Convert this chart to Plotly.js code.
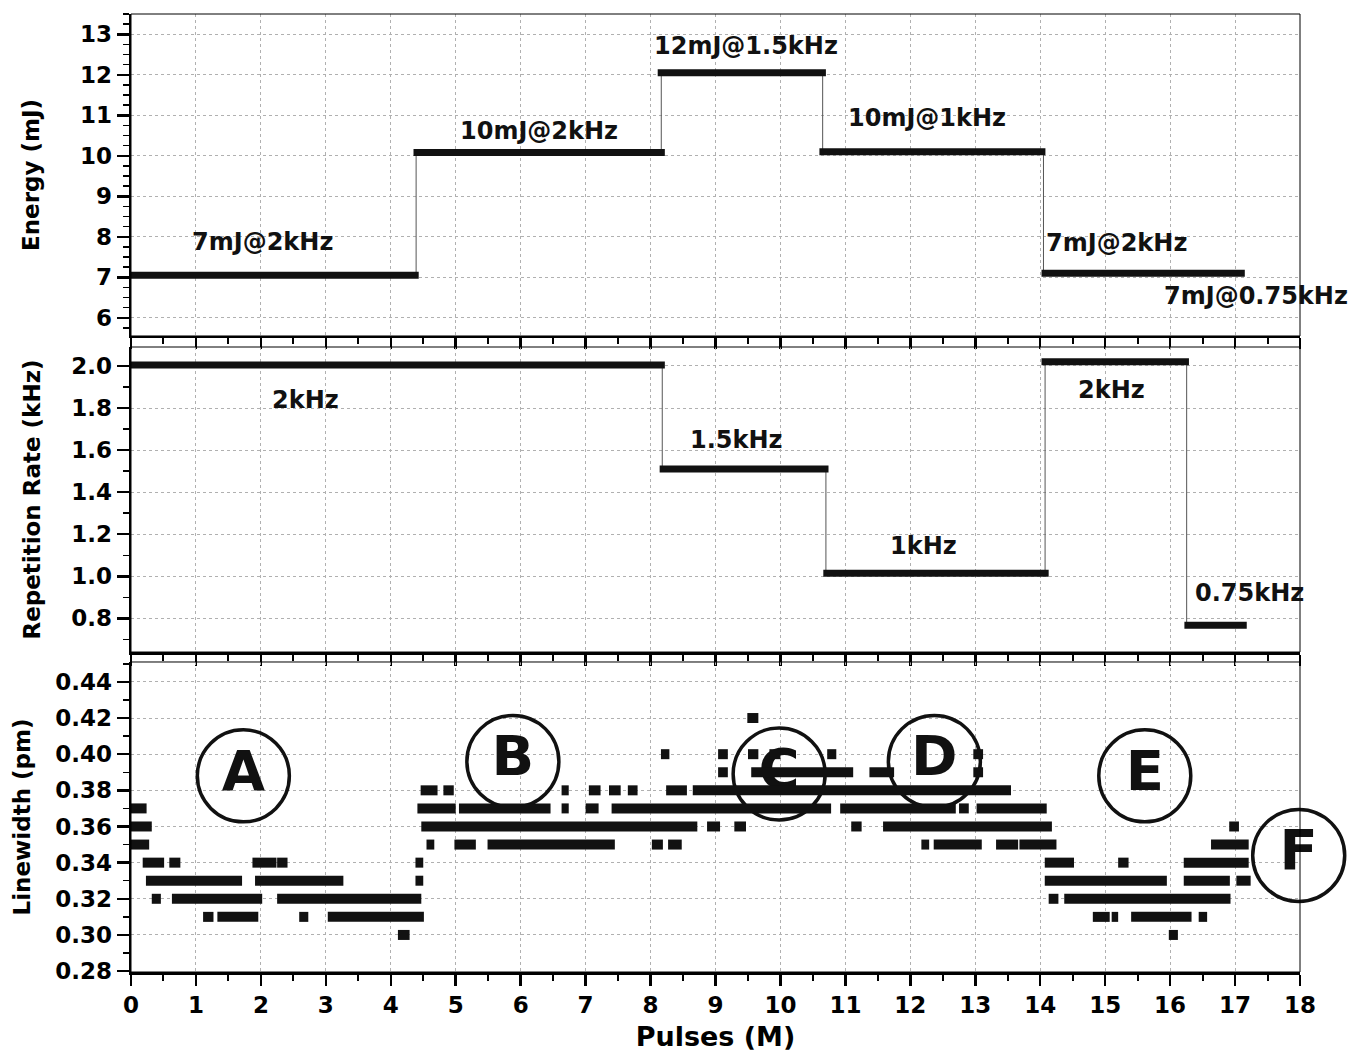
<!DOCTYPE html>
<html><head><meta charset="utf-8">
<script src="https://cdn.plot.ly/plotly-3.0.1.min.js"></script>
<style>html,body{margin:0;padding:0;background:#fff}#chart{width:1361px;height:1055px}</style>
</head><body><div id="chart"></div>
<script>
// ---- Energy panel (mJ) ----
const energyStart = [0.00, 4.35, 8.11, 10.60, 14.02];
const energyEnd   = [4.43, 8.22, 10.70, 14.08, 17.15];
const energyValue = [7.05, 10.08, 12.05, 10.10, 7.10];
const energyLabels = ["7mJ@2kHz", "10mJ@2kHz", "12mJ@1.5kHz", "10mJ@1kHz", "7mJ@2kHz", "7mJ@0.75kHz"];

// ---- Repetition rate panel (kHz) ----
const repStart = [0.00, 8.14, 10.66, 14.02, 16.22];
const repEnd   = [8.22, 10.74, 14.13, 16.29, 17.18];
const repValue = [2.005, 1.51, 1.014, 2.02, 0.767];
const repLabels = ["2kHz", "1.5kHz", "1kHz", "2kHz", "0.75kHz"];

// ---- Linewidth panel (pm): runs of dense points at each level ----
const lwLevel = [
  0.37, 0.36, 0.35,
  0.34, 0.34, 0.34, 0.34, 0.34,
  0.33, 0.33, 0.33,
  0.32, 0.32, 0.32,
  0.31, 0.31, 0.31, 0.31,
  0.30,
  0.38, 0.38, 0.38, 0.38, 0.38, 0.38, 0.38, 0.38,
  0.40, 0.40, 0.40, 0.40, 0.40, 0.40,
  0.42,
  0.39, 0.39, 0.39, 0.39,
  0.37, 0.37, 0.37, 0.37, 0.37, 0.37, 0.37, 0.37,
  0.36, 0.36, 0.36, 0.36, 0.36,
  0.35, 0.35, 0.35, 0.35, 0.35, 0.35, 0.35, 0.35, 0.35,
  0.34, 0.34, 0.34,
  0.35, 0.36,
  0.33, 0.33, 0.33,
  0.32, 0.32,
  0.31, 0.31, 0.31, 0.31,
  0.30
];
const lwStart = [
  0.00, 0.00, 0.00,
  0.18, 0.59, 1.87, 2.25, 4.38,
  0.23, 1.91, 4.38,
  0.32, 0.63, 2.25,
  1.11, 1.33, 2.59, 3.03,
  4.11,
  4.46, 4.81, 6.63, 7.05, 7.36, 7.65, 8.24, 8.65,
  8.16, 9.04, 9.50, 9.83, 10.72, 12.97,
  9.49,
  9.04, 9.55, 11.37, 12.97,
  4.41, 5.05, 6.63, 7.00, 7.40, 10.92, 12.75, 13.02,
  4.47, 8.87, 9.29, 11.09, 11.58,
  4.55, 4.98, 5.49, 8.02, 8.27, 12.17, 12.36, 13.32, 13.68,
  14.07, 15.20, 16.21,
  16.63, 16.91,
  14.07, 16.21, 17.02,
  14.13, 14.37,
  14.81, 15.10, 15.40, 16.44,
  15.98
];
const lwEnd = [
  0.24, 0.32, 0.28,
  0.51, 0.76, 2.24, 2.41, 4.50,
  1.71, 3.27, 4.50,
  0.46, 2.02, 4.47,
  1.27, 1.96, 2.73, 4.51,
  4.29,
  4.72, 4.97, 6.74, 7.23, 7.54, 7.80, 8.56, 13.55,
  8.29, 9.19, 9.66, 10.00, 10.86, 13.12,
  9.66,
  9.19, 11.12, 11.75, 13.12,
  5.00, 6.46, 6.74, 7.20, 10.78, 12.70, 12.90, 14.10,
  8.72, 9.07, 9.47, 11.25, 14.18,
  4.67, 5.31, 7.45, 8.19, 8.48, 12.29, 13.10, 13.66, 14.25,
  14.52, 15.36, 17.21,
  17.21, 17.06,
  15.95, 16.92, 17.24,
  14.28, 16.93,
  15.07, 15.20, 16.33, 16.57,
  16.12
];
const regionLabels = ["A", "B", "C", "D", "E", "F"];

// ---- annotation placement (positions / styles, not data) ----
const energyLabelPos = [[2.02, 7.87], [6.28, 10.61], [9.47, 12.72], [12.26, 10.94], [15.18, 7.85], [17.32, 6.53]];
const repLabelPos = [[2.68, 1.84], [9.32, 1.648], [12.2, 1.143], [15.09, 1.886], [17.23, 0.919]];
const circlePos = [[1.73, 0.388], [5.88, 0.396], [9.98, 0.389], [12.37, 0.396], [15.61, 0.388], [17.98, 0.344]];

const FONT = 'DejaVu Sans';
const INK = '#111';

function segTrace(starts, ends, vals, xa, ya, width) {
  const x = [], y = [];
  for (let i = 0; i < starts.length; i++) {
    x.push(starts[i], ends[i], null);
    y.push(vals[i], vals[i], null);
  }
  return {type: 'scatter', mode: 'lines', x, y, xaxis: xa, yaxis: ya,
    line: {color: INK, width: width}, hoverinfo: 'skip', connectgaps: false};
}
function connTrace(starts, ends, vals, xa, ya) {
  const x = [], y = [];
  for (let i = 0; i < starts.length - 1; i++) {
    const xm = (ends[i] + starts[i + 1]) / 2;
    x.push(xm, xm, null);
    y.push(vals[i], vals[i + 1], null);
  }
  return {type: 'scatter', mode: 'lines', x, y, xaxis: xa, yaxis: ya,
    line: {color: '#555', width: 1}, hoverinfo: 'skip'};
}

const circleTrace = {
  type: 'scatter', mode: 'markers+text', xaxis: 'x3', yaxis: 'y3',
  x: circlePos.map(p => p[0]), y: circlePos.map(p => p[1]), text: regionLabels,
  textposition: 'middle center', cliponaxis: false,
  textfont: {family: FONT, size: 56, weight: 'bold', color: INK},
  marker: {symbol: 'circle-open', size: 92, color: INK, line: {width: 3.5, color: INK}},
  hoverinfo: 'skip'
};

const traces = [
  connTrace(energyStart, energyEnd, energyValue, 'x', 'y'),
  segTrace(energyStart, energyEnd, energyValue, 'x', 'y', 7),
  connTrace(repStart, repEnd, repValue, 'x2', 'y2'),
  segTrace(repStart, repEnd, repValue, 'x2', 'y2', 7),
  circleTrace,
  segTrace(lwStart, lwEnd, lwLevel, 'x3', 'y3', 10)
];

const tickFont = {family: FONT, size: 23, weight: 'bold', color: '#000'};
const titleFont = {family: FONT, size: 23, weight: 'bold', color: '#000'};
function xAxis(anchor, showLabels) {
  const a = {
    anchor: anchor, range: [0, 18], tick0: 0, dtick: 1, ticks: 'outside', ticklen: 11, tickwidth: 2.5,
    tickcolor: '#000', showline: true, linewidth: 2.5, linecolor: '#000', zeroline: false,
    showgrid: true, gridcolor: '#b0b0b0', griddash: 'dot', gridwidth: 1,
    minor: {dtick: 0.5, ticks: 'outside', ticklen: 6, tickwidth: 2, tickcolor: '#000', showgrid: false},
    showticklabels: showLabels, tickfont: tickFont
  };
  if (anchor !== 'y3') a.matches = 'x3';
  return a;
}
function yAxis(domain, range, dtick, minor, fmt, title, standoff) {
  return {
    domain: domain, range: range, tick0: 0, dtick: dtick, tickformat: fmt,
    ticks: 'outside', ticklen: 12, tickwidth: 2.5, tickcolor: '#000',
    showline: true, linewidth: 2.5, linecolor: '#000', zeroline: false,
    showgrid: true, gridcolor: '#b0b0b0', griddash: 'dot', gridwidth: 1,
    minor: {dtick: minor, ticks: 'outside', ticklen: 6, tickwidth: 1.5, tickcolor: '#000', showgrid: false},
    tickfont: tickFont,
    title: {text: title, font: titleFont, standoff: standoff}
  };
}

const annotations = [];
energyLabels.forEach((t, i) => annotations.push({
  text: t, x: energyLabelPos[i][0], y: energyLabelPos[i][1], xref: 'x', yref: 'y',
  showarrow: false, font: {family: FONT, size: 24, weight: 'bold', color: INK}
}));
repLabels.forEach((t, i) => annotations.push({
  text: t, x: repLabelPos[i][0], y: repLabelPos[i][1], xref: 'x2', yref: 'y2',
  showarrow: false, font: {family: FONT, size: 24, weight: 'bold', color: INK}
}));

const shapes = [['x', 'y'], ['x2', 'y2'], ['x3', 'y3']].map(([xa, ya]) => ({
  type: 'rect', xref: xa + ' domain', yref: ya + ' domain', x0: 0, x1: 1, y0: 0, y1: 1,
  line: {color: '#000', width: 1}, fillcolor: 'rgba(0,0,0,0)', layer: 'above'
}));

const layout = {
  width: 1361, height: 1055,
  margin: {l: 131, r: 61, t: 14, b: 83},
  paper_bgcolor: '#fff', plot_bgcolor: '#fff', showlegend: false,
  xaxis: xAxis('y', false),
  xaxis2: xAxis('y2', false),
  xaxis3: Object.assign(xAxis('y3', true), {title: {text: 'Pulses (M)', font: {family: FONT, size: 27, weight: 'bold', color: '#000'}, standoff: 10}}),
  yaxis: yAxis([0.6639, 1], [5.55, 13.5], 1, 0.25, 'd', 'Energy (mJ)', 34),
  yaxis2: yAxis([0.334, 0.6524], [0.64, 2.09], 0.2, 0.1, '.1f', 'Repetition Rate (kHz)', 24),
  yaxis3: yAxis([0, 0.3236], [0.2795, 0.451], 0.02, 0.01, '.2f', 'Linewidth (pm)', 18),
  annotations: annotations,
  shapes: shapes
};

Plotly.newPlot('chart', traces, layout, {displayModeBar: false, staticPlot: true});
</script>
</body></html>
